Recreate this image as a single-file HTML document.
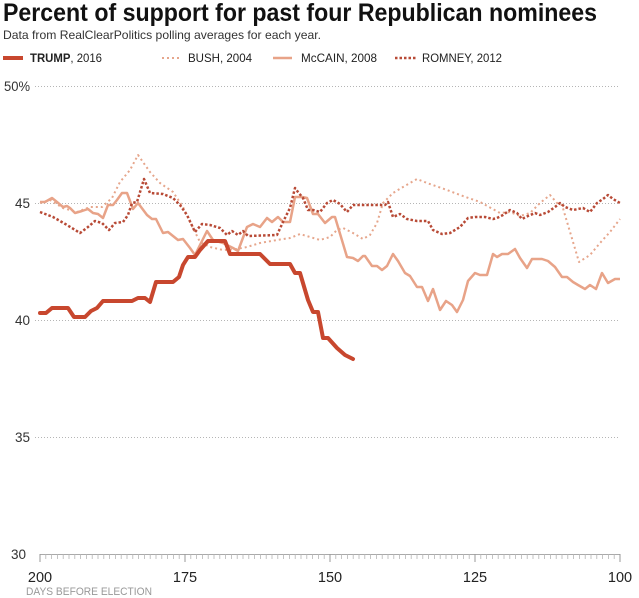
<!DOCTYPE html>
<html>
<head>
<meta charset="utf-8">
<style>
html,body{margin:0;padding:0;background:#fff;}
svg{display:block;}
text{font-family:"Liberation Sans",Arial,sans-serif;}
</style>
</head>
<body>
<svg width="639" height="598" viewBox="0 0 639 598" xmlns="http://www.w3.org/2000/svg">
<rect width="639" height="598" fill="#fff"/>
<!-- Title -->
<text x="3" y="21" font-size="25" font-weight="bold" fill="#111" textLength="594" lengthAdjust="spacingAndGlyphs">Percent of support for past four Republican nominees</text>
<text x="3" y="39" font-size="12" fill="#333" textLength="318" lengthAdjust="spacingAndGlyphs">Data from RealClearPolitics polling averages for each year.</text>
<!-- Legend -->
<line x1="3" y1="58" x2="23" y2="58" stroke="#c8472e" stroke-width="4"/>
<text x="30" y="62" font-size="12" fill="#222" textLength="72" lengthAdjust="spacingAndGlyphs"><tspan font-weight="bold">TRUMP</tspan>, 2016</text>
<line x1="162" y1="58" x2="181" y2="58" stroke="#e6a68c" stroke-width="2" stroke-dasharray="2,3"/>
<text x="188" y="62" font-size="12" fill="#222" textLength="64" lengthAdjust="spacingAndGlyphs">BUSH, 2004</text>
<line x1="273" y1="58" x2="292" y2="58" stroke="#e8a388" stroke-width="2.5"/>
<text x="301" y="62" font-size="12" fill="#222" textLength="76" lengthAdjust="spacingAndGlyphs">McCAIN, 2008</text>
<line x1="395" y1="58" x2="416" y2="58" stroke="#b84a36" stroke-width="2.5" stroke-dasharray="2.5,2"/>
<text x="422" y="62" font-size="12" fill="#222" textLength="80" lengthAdjust="spacingAndGlyphs">ROMNEY, 2012</text>
<!-- Grid -->
<g stroke="#b5b5b5" stroke-width="1" stroke-dasharray="1,2">
<line x1="35" y1="86.5" x2="620" y2="86.5"/>
<line x1="35" y1="203.5" x2="620" y2="203.5"/>
<line x1="35" y1="320.5" x2="620" y2="320.5"/>
<line x1="35" y1="437.5" x2="620" y2="437.5"/>
</g>
<g font-size="13.5" fill="#333">
<text x="4" y="91" textLength="26" lengthAdjust="spacingAndGlyphs">50%</text>
<text x="30" y="208" text-anchor="end">45</text>
<text x="30" y="325" text-anchor="end">40</text>
<text x="30" y="442" text-anchor="end">35</text>
<text x="26" y="559" text-anchor="end">30</text>
</g>
<!-- X axis -->
<line x1="40" y1="554.5" x2="620" y2="554.5" stroke="#aaa" stroke-width="1"/>
<path id="ticks" stroke="#aaa" stroke-width="0.8" fill="none" d=""/>
<g id="tk"></g>
<g font-size="14.5" fill="#222" text-anchor="middle">
<text x="40" y="582">200</text>
<text x="185" y="582">175</text>
<text x="330" y="582">150</text>
<text x="475" y="582">125</text>
<text x="620" y="582">100</text>
</g>
<text x="26" y="595" font-size="11" fill="#999" textLength="126" lengthAdjust="spacingAndGlyphs">DAYS BEFORE ELECTION</text>
<!-- Series -->
<polyline fill="none" stroke="#e6a68c" stroke-width="2" stroke-dasharray="2,3" stroke-linejoin="round" points="40,203 50,200 63,208 77,212 90,207 102,207 112,198 120,182 130,170 138,155 150,172 160,183 173,192 183,207 193,228 200,242 210,247 223,250 237,249 247,247 260,243 277,240 290,238 300,234 310,237 320,240 330,237 337,230 343,228 353,233 363,239 370,235 377,223 383,203 387,199 393,193 403,187 417,179 427,183 447,190 460,195 480,202 500,213 510,212 520,216 530,213 540,203 550,195 557,203 562,205 579,262 590,255 600,243 610,232 620,219"/>
<polyline fill="none" stroke="#e8a388" stroke-width="2.5" stroke-linejoin="round" points="40,202 45,202 52,198 57,202 63,207 67,206 70,208 75,213 82,211 88,209 93,213 98,214 103,218 108,205 113,205 117,200 122,193 127,193 133,209 138,203 147,215 152,219 156,219 163,233 168,232 178,240 183,239 190,248 195,255 207,231 213,240 223,243 233,248 238,251 247,227 253,224 260,227 267,218 272,222 278,217 283,222 290,222 295,197 302,197 307,198 313,214 318,214 325,223 332,217 335,217 347,257 353,258 358,261 363,256 365,256 372,266 377,266 382,270 387,266 393,254 398,261 405,273 410,276 417,287 422,287 428,301 433,289 440,310 446,301 452,305 457,312 463,300 468,281 475,273 480,275 487,275 493,254 497,257 502,254 508,254 515,249 520,258 527,268 532,259 542,259 548,261 555,267 562,277 567,277 573,282 578,285 585,289 590,285 596,289 602,273 608,283 615,279 620,279"/>
<polyline fill="none" stroke="#b84a36" stroke-width="2.5" stroke-dasharray="2.5,2" stroke-linejoin="round" points="40,212 53,217 67,225 80,233 88,227 95,221 102,223 109,230 115,223 123,222 128,215 132,203 137,202 144,179 150,193 163,194 173,198 180,205 187,215 195,232 202,224 210,225 220,228 227,235 232,231 238,235 243,231 248,236 277,235 283,222 290,208 295,188 298,192 303,198 308,210 313,210 320,212 327,203 333,200 340,204 347,212 353,205 385,205 388,202 393,217 400,214 407,219 417,221 428,221 433,230 442,234 450,233 460,227 468,218 475,217 485,217 493,219 497,218 503,215 510,210 517,213 522,219 528,216 535,213 540,215 548,212 555,207 560,203 565,207 573,210 583,208 590,212 597,203 603,199 608,195 613,199 620,203"/>
<polyline fill="none" stroke="#c8472e" stroke-width="4" stroke-linejoin="round" stroke-linecap="round" points="40,313 46,313 52,308 68,308 74,317 85,317 91,311 97,308 103,301 132,301 138,298 145,298 150,302 156,282 173,282 179,277 183,265 188,257 195,257 200,250 208,241 225,241 230,254 260,254 270,264 290,264 295,273 300,273 308,300 313,312 318,312 323,338 328,338 337,348 345,355 353,359"/>
<!-- ticks drawn explicitly -->
<g stroke="#aaa" stroke-width="0.8">
<line x1="40" y1="554" x2="40" y2="562" stroke="#999" stroke-width="1"/>
<line x1="185" y1="554" x2="185" y2="562" stroke="#999" stroke-width="1"/>
<line x1="330" y1="554" x2="330" y2="562" stroke="#999" stroke-width="1"/>
<line x1="475" y1="554" x2="475" y2="562" stroke="#999" stroke-width="1"/>
<line x1="620" y1="554" x2="620" y2="562" stroke="#999" stroke-width="1"/>
</g>
<path stroke="#b5b5b5" stroke-width="0.8" fill="none" d="M45.8,554v5M51.6,554v5M57.4,554v5M63.2,554v5M69,554v5M74.8,554v5M80.6,554v5M86.4,554v5M92.2,554v5M98,554v5M103.8,554v5M109.6,554v5M115.4,554v5M121.2,554v5M127,554v5M132.8,554v5M138.6,554v5M144.4,554v5M150.2,554v5M156,554v5M161.8,554v5M167.6,554v5M173.4,554v5M179.2,554v5M190.8,554v5M196.6,554v5M202.4,554v5M208.2,554v5M214,554v5M219.8,554v5M225.6,554v5M231.4,554v5M237.2,554v5M243,554v5M248.8,554v5M254.6,554v5M260.4,554v5M266.2,554v5M272,554v5M277.8,554v5M283.6,554v5M289.4,554v5M295.2,554v5M301,554v5M306.8,554v5M312.6,554v5M318.4,554v5M324.2,554v5M335.8,554v5M341.6,554v5M347.4,554v5M353.2,554v5M359,554v5M364.8,554v5M370.6,554v5M376.4,554v5M382.2,554v5M388,554v5M393.8,554v5M399.6,554v5M405.4,554v5M411.2,554v5M417,554v5M422.8,554v5M428.6,554v5M434.4,554v5M440.2,554v5M446,554v5M451.8,554v5M457.6,554v5M463.4,554v5M469.2,554v5M480.8,554v5M486.6,554v5M492.4,554v5M498.2,554v5M504,554v5M509.8,554v5M515.6,554v5M521.4,554v5M527.2,554v5M533,554v5M538.8,554v5M544.6,554v5M550.4,554v5M556.2,554v5M562,554v5M567.8,554v5M573.6,554v5M579.4,554v5M585.2,554v5M591,554v5M596.8,554v5M602.6,554v5M608.4,554v5M614.2,554v5"/>
</svg>
</body>
</html>
